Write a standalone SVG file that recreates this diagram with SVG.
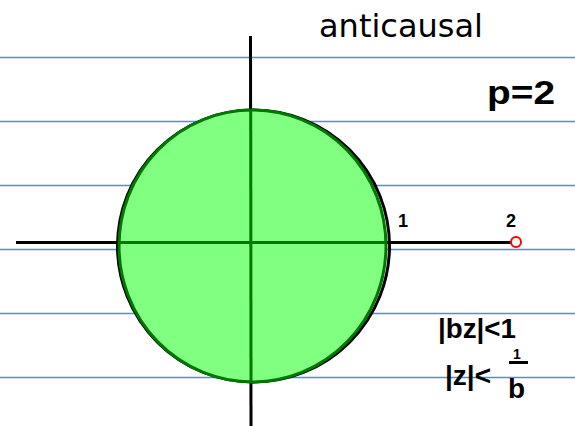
<svg xmlns="http://www.w3.org/2000/svg" width="575" height="426" viewBox="0 0 575 426">
<style>
.rule{stroke:#4a8fe6;stroke-width:1.3}
.hand{font-family:"Liberation Sans",Arial,sans-serif;font-weight:bold;fill:#000}
.ax{stroke:#000;stroke-width:3;fill:none}
.axg{stroke:#007800;stroke-width:3;fill:none}
</style>
<rect width="575" height="426" fill="#fff"/>
<g id="rules">
<line class="rule" x1="0" y1="57.5" x2="575" y2="57.5"/>
<line class="rule" x1="0" y1="121.5" x2="575" y2="121.5"/>
<line class="rule" x1="0" y1="185.5" x2="575" y2="185.5"/>
<line class="rule" x1="0" y1="249.5" x2="575" y2="249.5"/>
<line class="rule" x1="0" y1="313.5" x2="575" y2="313.5"/>
<line class="rule" x1="0" y1="377.5" x2="575" y2="377.5"/>
</g>
<g id="connectors">
<line class="ax" x1="16" y1="242.5" x2="511" y2="242.5"/>
<line class="ax" x1="250.5" y1="36" x2="251" y2="426"/>
</g>
<g id="unit-circle">
<circle cx="253.5" cy="246" r="136" fill="none" stroke="#000" stroke-width="3"/>
</g>
<g id="roc">
<ellipse cx="252.5" cy="246" rx="133.5" ry="136" fill="#80ff80" stroke="#007800" stroke-width="3"/>
<line class="axg" x1="120" y1="242.5" x2="386" y2="242.5"/>
<line class="axg" x1="250.7" y1="111" x2="251" y2="381"/>
</g>
<g id="title">
<text x="319" y="36.5" font-family="DejaVu Sans,sans-serif" font-size="32" fill="#000">anticausal</text>
</g>
<g id="labels">
<text class="hand" x="487" y="104" font-size="34" textLength="68" lengthAdjust="spacingAndGlyphs">p=2</text>
<text class="hand" x="398" y="227" font-size="18">1</text>
<text class="hand" x="506" y="227" font-size="18">2</text>
<circle cx="516" cy="242" r="5" fill="none" stroke="#ff0000" stroke-width="2"/>
<text class="hand" x="438" y="338" font-size="28" textLength="78" lengthAdjust="spacingAndGlyphs">|bz|&lt;1</text>
<text class="hand" x="445" y="385" font-size="28">|z|&lt;</text>
<text class="hand" x="513" y="359" font-size="14">1</text>
<line x1="509" y1="362.5" x2="528" y2="362.5" stroke="#000" stroke-width="3"/>
<text class="hand" x="508" y="398" font-size="28">b</text>
</g>
</svg>
